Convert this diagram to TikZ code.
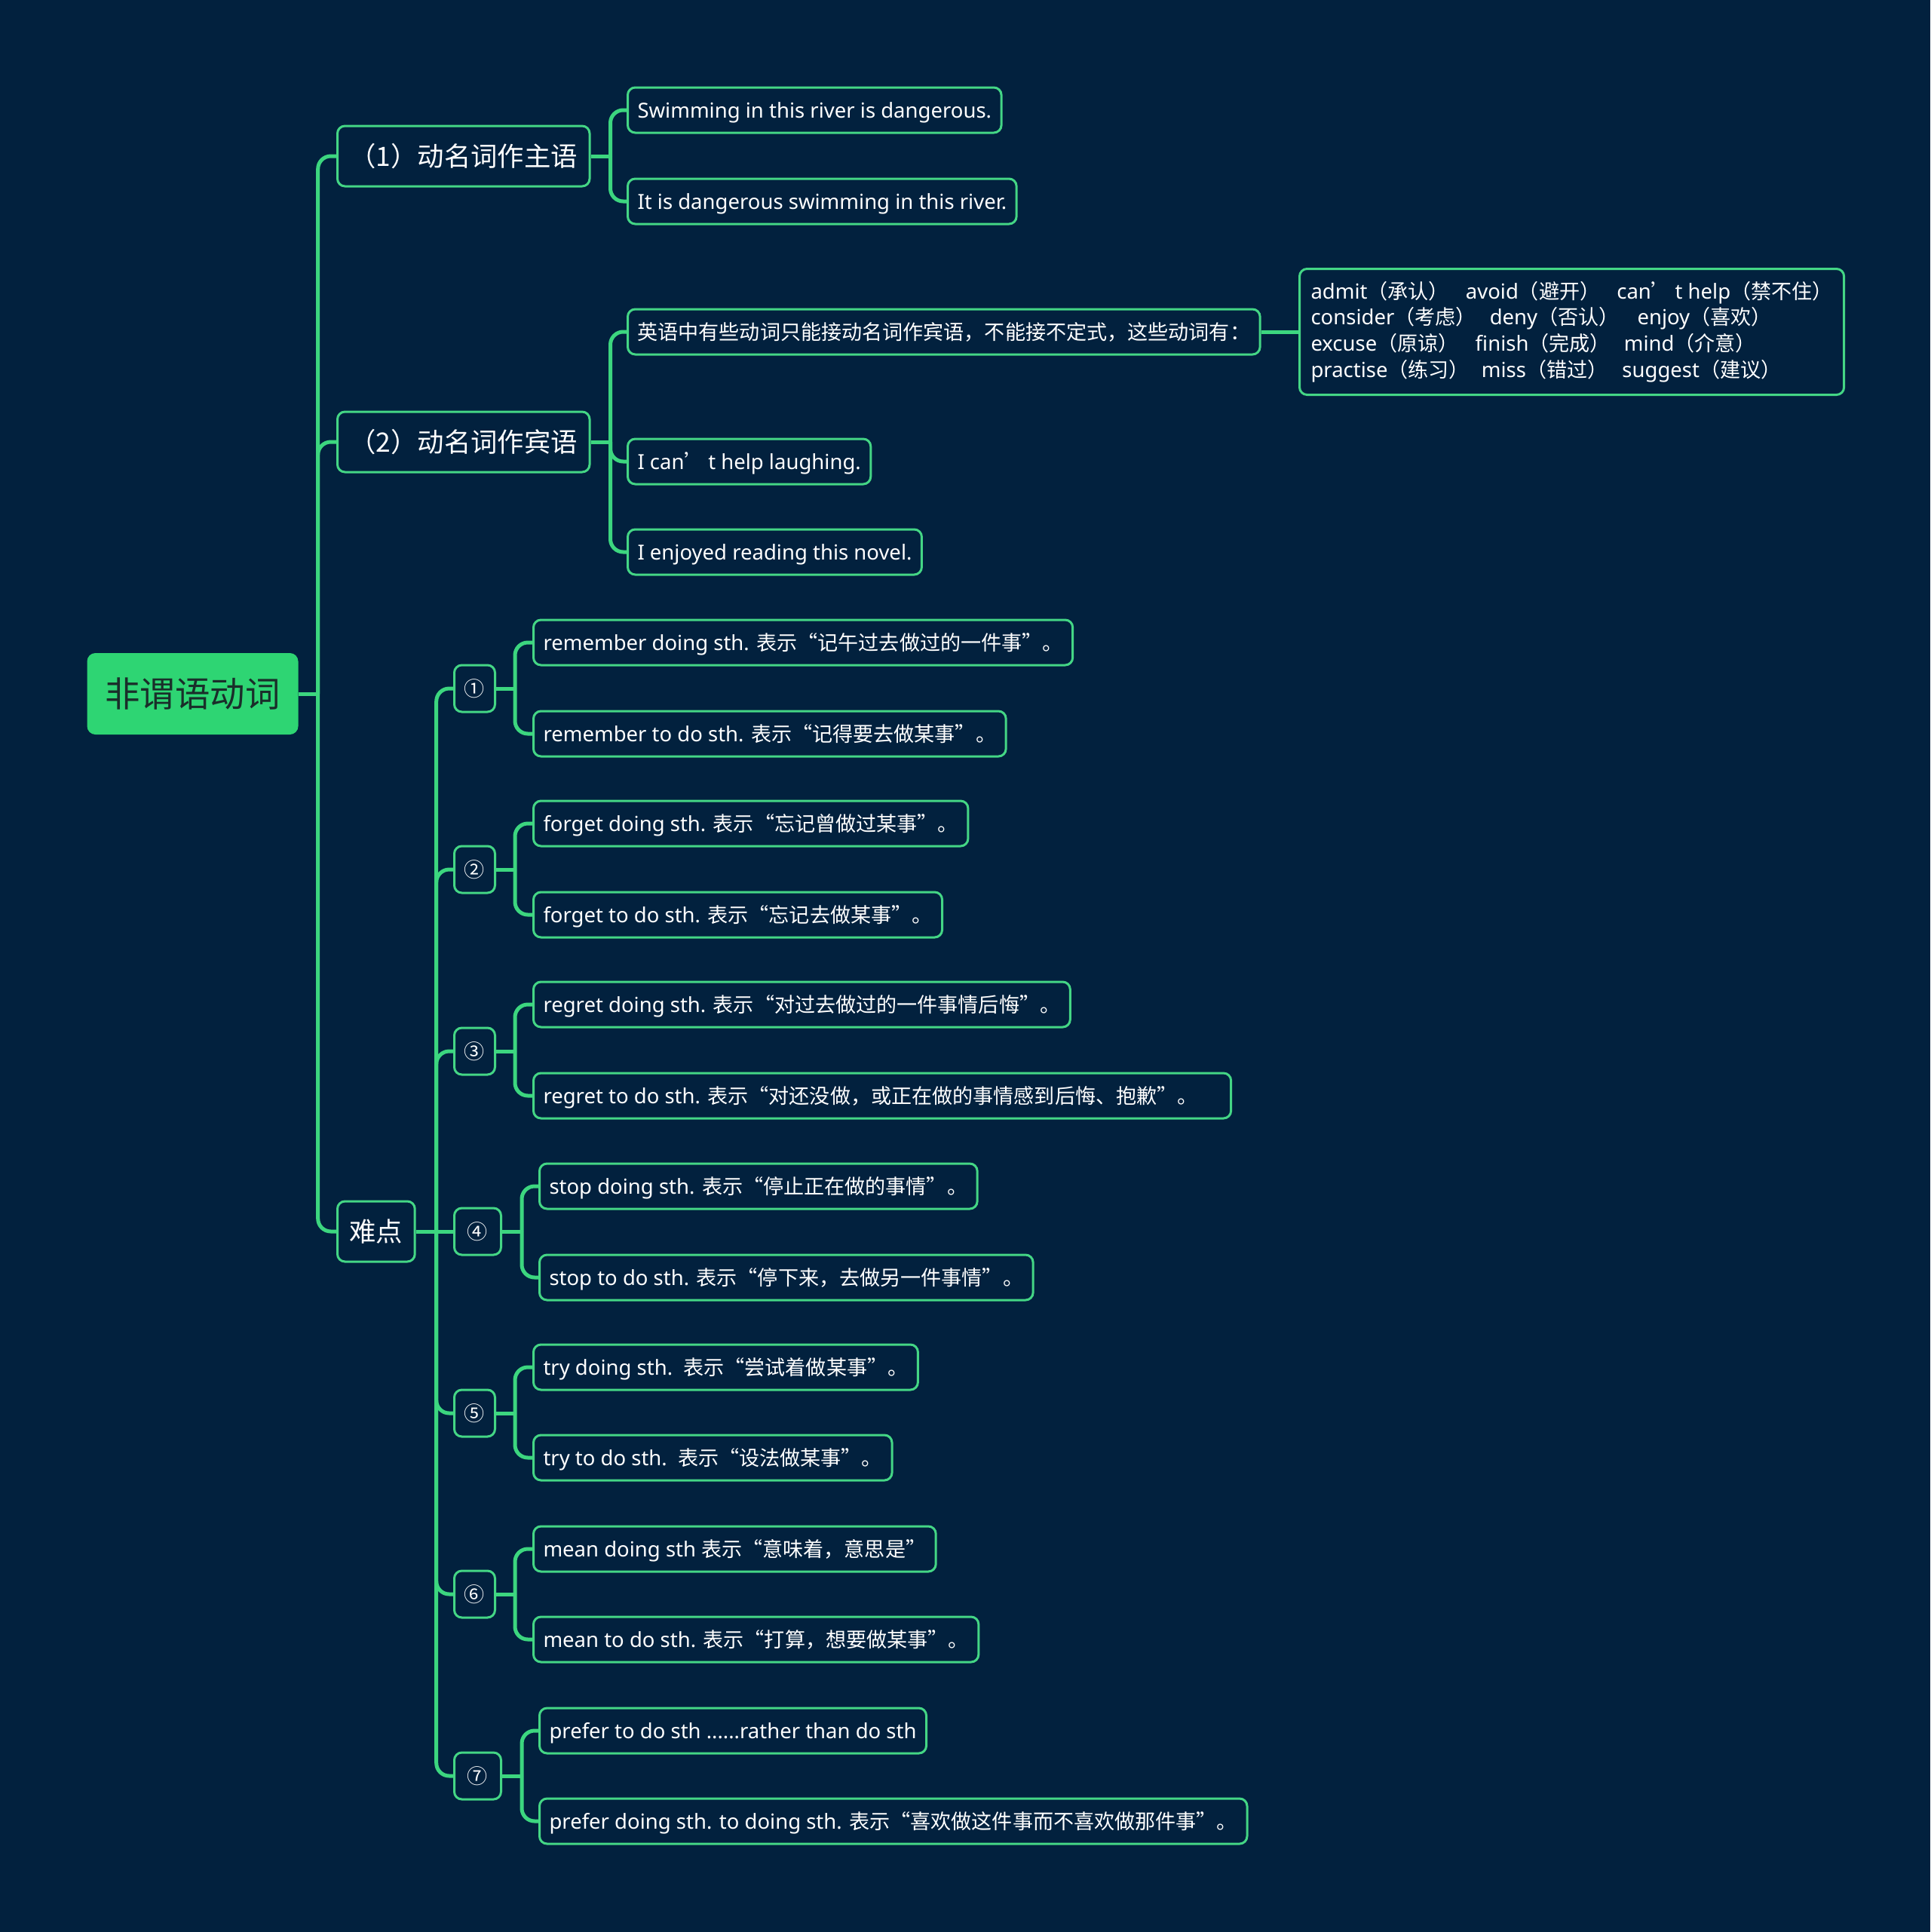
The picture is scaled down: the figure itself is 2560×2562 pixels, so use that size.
\documentclass[tikz,border=0pt]{standalone}
\usepackage{fontspec}
\setmainfont{Noto Sans}
\newfontfamily\cjkf[Scale=0.985]{Noto Sans CJK SC}
\newcommand\zh[1]{{\cjkf #1}}
\definecolor{bgc}{HTML}{02213E}
\definecolor{linec}{HTML}{3CD67F}
\definecolor{boxc}{HTML}{44D685}
\definecolor{rootfill}{HTML}{2ED573}
\definecolor{roottext}{HTML}{1A2E2A}
\tikzset{
  conn/.style={draw=linec, line width=5pt, rounded corners=17pt},
  basebox/.style={draw=boxc, line width=3pt, rounded corners=10pt, fill=bgc, text=white},
  rootbox/.style={fill=rootfill, rounded corners=11pt, text=roottext, minimum width=280pt, minimum height=108pt, inner sep=0pt, font=\fontsize{47.1}{52}\selectfont},
  lonebox/.style={basebox, anchor=west, minimum height=80pt, inner xsep=16pt, inner ysep=0pt, font=\fontsize{35.9}{42}\selectfont},
  leafbox/.style={basebox, anchor=west, minimum height=60pt, inner xsep=13pt, inner ysep=0pt, text height=24pt, text depth=4pt, font=\fontsize{27.5}{34.8}\selectfont},
  numbox/.style={basebox, anchor=west, minimum height=62pt, minimum width=54pt, inner sep=0pt, font=\fontsize{27.5}{32}\selectfont},
}
\begin{document}
\begin{tikzpicture}[x=1pt,y=-1pt]
\fill[bgc] (0,0) rectangle (2560,2562);
\useasboundingbox (0,0) rectangle (2560,2562);

% root and level 1
\node[rootbox] (root) at (255.5,920) {\zh{非谓语动词}};
\node[lonebox] (n1) at (446,207) {\zh{（1）动名词作主语}};
\node[lonebox] (n2) at (446,586) {\zh{（2）动名词作宾语}};
\node[lonebox] (n3) at (446,1633) {\zh{难点}};

% level 2 under (1)
\node[leafbox] (s1) at (831,146) {Swimming in this river is dangerous.};
\node[leafbox] (s2) at (831,267) {It is dangerous swimming in this river.};

% level 2 under (2)
\node[leafbox] (o1) at (831,440) {\zh{英语中有些动词只能接动名词作宾语，不能接不定式，这些动词有：}};
\node[leafbox] (o2) at (831,612) {I can\zh{’}\,t help laughing.};
\node[leafbox] (o3) at (831,732) {I enjoyed reading this novel.};
\node[leafbox, text height=, text depth=, minimum height=167pt, inner xsep=15pt, align=left] (olist) at (1722,440)
 {admit\zh{（承认）}\hspace{22pt}avoid\zh{（避开）}\hspace{22pt}can\zh{’}\,t help\zh{（禁不住）}\\
  consider\zh{（考虑）}\hspace{18pt}deny\zh{（否认）}\hspace{24pt}enjoy\zh{（喜欢）}\\
  excuse\zh{（原谅）}\hspace{22pt}finish\zh{（完成）}\hspace{18pt}mind\zh{（介意）}\\
  practise\zh{（练习）}\hspace{16pt}miss\zh{（错过）}\hspace{19pt}suggest\zh{（建议）}};

% numbered items
\node[numbox] (c1) at (601,913) {\zh{①}};
\node[numbox] (c2) at (601,1153) {\zh{②}};
\node[numbox] (c3) at (601,1394) {\zh{③}};
\node[numbox, minimum width=62pt] (c4) at (601,1633) {\zh{④}};
\node[numbox] (c5) at (601,1874) {\zh{⑤}};
\node[numbox] (c6) at (601,2114) {\zh{⑥}};
\node[numbox, minimum width=62pt] (c7) at (601,2355) {\zh{⑦}};

% leaves of numbered items
\node[leafbox] (r1) at (706,852) {remember doing sth. \zh{表示“记午过去做过的一件事”。}};
\node[leafbox] (r2) at (706,973) {remember to do sth. \zh{表示“记得要去做某事”。}};
\node[leafbox] (f1) at (706,1092) {forget doing sth. \zh{表示“忘记曾做过某事”。}};
\node[leafbox] (f2) at (706,1213) {forget to do sth. \zh{表示“忘记去做某事”。}};
\node[leafbox] (g1) at (706,1332) {regret doing sth. \zh{表示“对过去做过的一件事情后悔”。}};
\node[leafbox] (g2) at (706,1453) {regret to do sth. \zh{表示“对还没做，或正在做的事情感到后悔、抱歉”。}\kern31pt};
\node[leafbox] (t1) at (714,1573) {stop doing sth. \zh{表示“停止正在做的事情”。}};
\node[leafbox] (t2) at (714,1694) {stop to do sth. \zh{表示“停下来，去做另一件事情”。}};
\node[leafbox] (y1) at (706,1813) {try doing sth.\ \ \zh{表示“尝试着做某事”。}};
\node[leafbox] (y2) at (706,1933) {try to do sth.\ \ \zh{表示“设法做某事”。}};
\node[leafbox] (m1) at (706,2054) {mean doing sth \zh{表示“意味着，意思是”}};
\node[leafbox] (m2) at (706,2174) {mean to do sth. \zh{表示“打算，想要做某事”。}};
\node[leafbox] (p1) at (714,2295) {prefer to do sth ......rather than do sth};
\node[leafbox] (p2) at (714,2415) {prefer doing sth. to doing sth. \zh{表示“喜欢做这件事而不喜欢做那件事”。}};

% connectors: root
\draw[conn] (root.east) -- ++(26,0) coordinate (j0);
\foreach \c in {n1,n2,n3} \draw[conn] (j0) |- (\c.west);
% (1)
\draw[conn] (n1.east) -- ++(26,0) coordinate (j1);
\foreach \c in {s1,s2} \draw[conn] (j1) |- (\c.west);
% (2)
\draw[conn] (n2.east) -- ++(26,0) coordinate (j2);
\foreach \c in {o1,o2,o3} \draw[conn] (j2) |- (\c.west);
\draw[conn] (o1.east) -- (olist.west);
% difficult
\draw[conn] (n3.east) -- ++(27,0) coordinate (j3);
\foreach \c in {c1,c2,c3,c5,c6,c7} \draw[conn] (j3) |- (\c.west);
\draw[conn] (j3) -- (c4.west);
% numbered
\draw[conn] (c1.east) -- ++(25,0) coordinate (k1);
\foreach \c in {r1,r2} \draw[conn] (k1) |- (\c.west);
\draw[conn] (c2.east) -- ++(25,0) coordinate (k2);
\foreach \c in {f1,f2} \draw[conn] (k2) |- (\c.west);
\draw[conn] (c3.east) -- ++(25,0) coordinate (k3);
\foreach \c in {g1,g2} \draw[conn] (k3) |- (\c.west);
\draw[conn] (c4.east) -- ++(26,0) coordinate (k4);
\foreach \c in {t1,t2} \draw[conn] (k4) |- (\c.west);
\draw[conn] (c5.east) -- ++(25,0) coordinate (k5);
\foreach \c in {y1,y2} \draw[conn] (k5) |- (\c.west);
\draw[conn] (c6.east) -- ++(25,0) coordinate (k6);
\foreach \c in {m1,m2} \draw[conn] (k6) |- (\c.west);
\draw[conn] (c7.east) -- ++(26,0) coordinate (k7);
\foreach \c in {p1,p2} \draw[conn] (k7) |- (\c.west);
\end{tikzpicture}
\end{document}
